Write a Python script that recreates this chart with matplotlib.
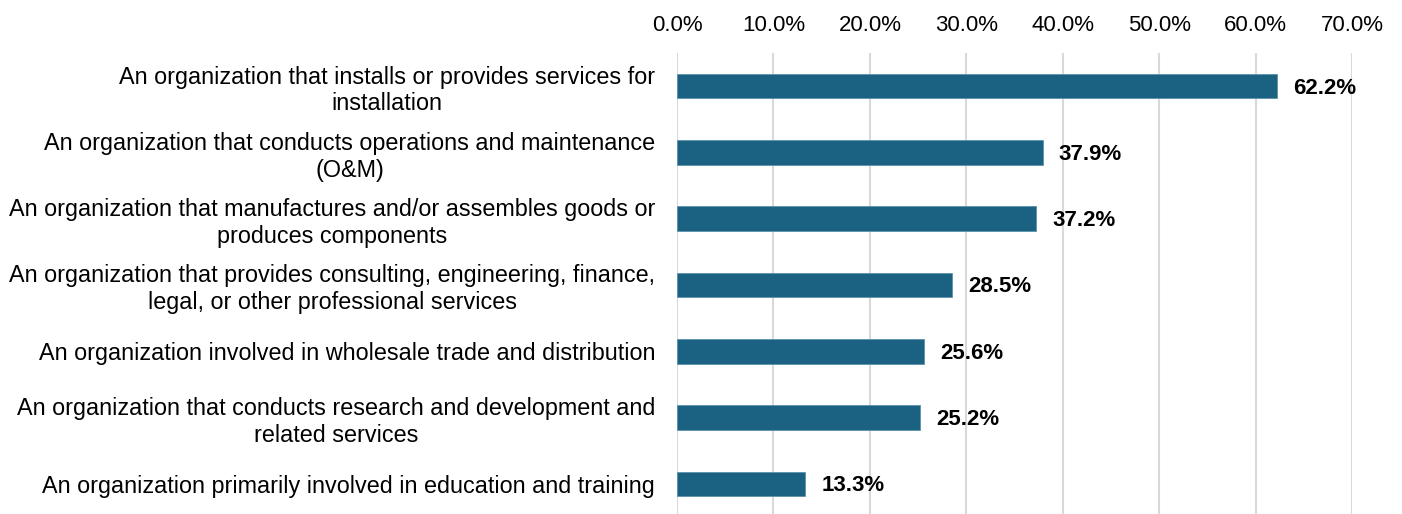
import matplotlib.pyplot as plt
from matplotlib.ticker import PercentFormatter

categories = [
    "An organization that installs or provides services for\ninstallation",
    "An organization that conducts operations and maintenance\n(O&M)",
    "An organization that manufactures and/or assembles goods or\nproduces components",
    "An organization that provides consulting, engineering, finance,\nlegal, or other professional services",
    "An organization involved in wholesale trade and distribution",
    "An organization that conducts research and development and\nrelated services",
    "An organization primarily involved in education and training",
]
shares = [62.2, 37.9, 37.2, 28.5, 25.6, 25.2, 13.3]

plt.rcParams['font.family'] = ['Liberation Sans', 'DejaVu Sans']

fig = plt.figure(figsize=(14.02, 5.14), dpi=100)
ax = fig.add_axes([0.4829, -0.0058, 0.4815, 0.9027])

ypos = list(range(len(categories)))
ax.barh(ypos, shares, height=0.37, color='#1a6182', edgecolor='#5b93ad', linewidth=0.6, zorder=3)
for y, v in zip(ypos, shares):
    ax.text(v + 1.7, y + 0.03, f"{v:.1f}%", va='center', ha='left',
            fontsize=16, fontweight='bold', color='#000000')

ax.set_yticks(ypos)
ax.set_yticklabels(categories, fontsize=16.8, color='#000000',
                   multialignment='center', linespacing=1.2)
ax.set_ylim(len(categories) - 0.5, -0.5)

ax.set_xlim(0, 70)
ax.set_xticks(range(0, 71, 10))
ax.xaxis.set_major_formatter(PercentFormatter(decimals=1))
ax.xaxis.tick_top()
ax.tick_params(axis='x', labelsize=16, labelcolor='#000000', length=0, pad=12)
ax.tick_params(axis='y', length=0, pad=15.8)
ax.grid(axis='x', color='#d9d9d9', linewidth=1.5, zorder=0)
for s in ax.spines.values():
    s.set_visible(False)

fig.savefig('out.png', dpi=100)
